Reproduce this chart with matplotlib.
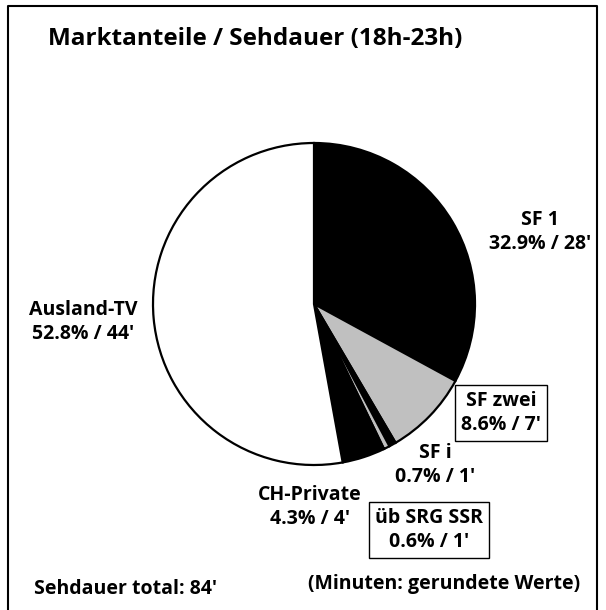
import matplotlib
matplotlib.use("Agg")
import matplotlib.pyplot as plt

# market share (%) and viewing minutes, 18h-23h
channels = ["SF 1", "SF zwei", "SF i", "üb SRG SSR", "CH-Private", "Ausland-TV"]
shares = [32.9, 8.6, 0.7, 0.6, 4.3, 52.8]
minutes = [28, 7, 1, 1, 4, 44]
colors = ["black", "#c0c0c0", "black", "#c0c0c0", "black", "white"]
total_minutes = 84

W, H = 606, 610
plt.rcParams['font.family'] = ['Open Sans', 'DejaVu Sans']

fig = plt.figure(figsize=(W / 100, H / 100), dpi=100)
ax = fig.add_axes([0, 0, 1, 1])
ax.set_xlim(0, W)
ax.set_ylim(0, H)
ax.set_aspect("equal")
ax.axis("off")

# frame (no bottom line)
ax.plot([8, 8, 597, 597], [-5, H - 6, H - 6, -5], color="black", lw=1.5)

ax.pie(shares, colors=colors, startangle=90, counterclock=False,
       center=(314, H - 304), radius=161,
       wedgeprops=dict(edgecolor="black", linewidth=1.6))
ax.set_xlim(0, W)
ax.set_ylim(0, H)

# label positions (pixel coords, y from top) and whether boxed
label_pos = [(540, 232), (501, 413), (435, 465), (429, 530), (310, 507), (83, 322)]
boxed = [False, True, False, True, False, False]

for name, s, m, (x, y), b in zip(channels, shares, minutes, label_pos, boxed):
    txt = f"{name}\n{s:.1f}% / {m}'"
    kw = {}
    if b:
        kw["bbox"] = dict(boxstyle="square,pad=0.3", facecolor="white",
                          edgecolor="black", linewidth=1)
    ax.text(x, H - y, txt, ha="center", va="center", fontsize=14,
            fontweight="bold", linespacing=1.3, **kw)

ax.text(48, H - 39, "Marktanteile / Sehdauer (18h-23h)", ha="left", va="center",
        fontsize=17.5, fontweight="bold")
ax.text(34, H - 589, f"Sehdauer total: {total_minutes}'", ha="left", va="center",
        fontsize=14, fontweight="bold")
ax.text(580, H - 584, "(Minuten: gerundete Werte)", ha="right", va="center",
        fontsize=14, fontweight="bold")

fig.savefig("out.png", dpi=100)
